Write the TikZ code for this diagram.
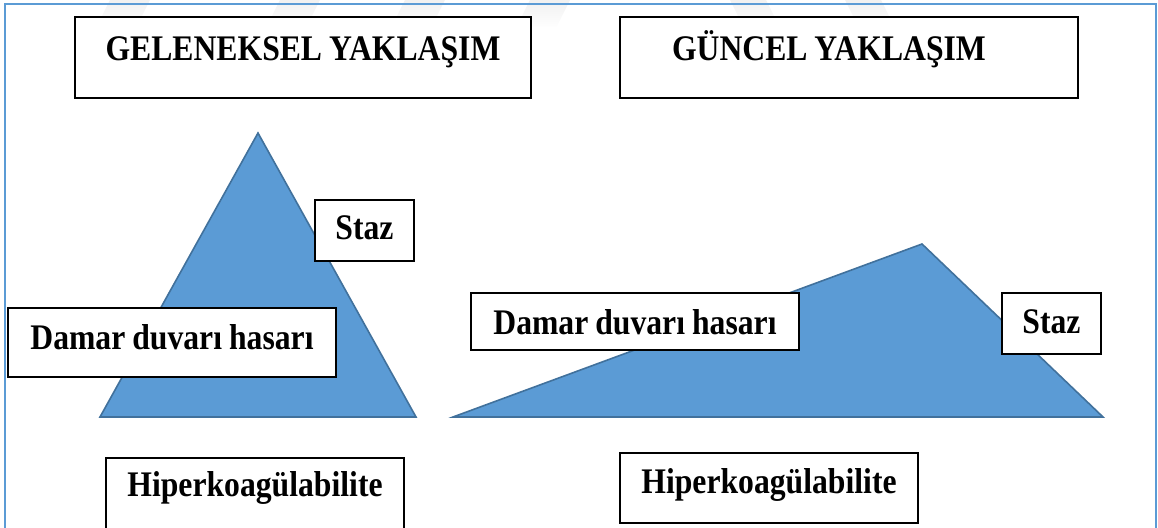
\documentclass[tikz,border=0pt]{standalone}
\usepackage{fontspec}
\setmainfont{Liberation Serif}
\newfontfamily\boxfont[FakeStretch=0.88,WordSpace=0.88]{Liberation Serif}
\usepackage{tikz}

\begin{document}
\begin{tikzpicture}[x=0.5pt,y=-0.5pt]
  \definecolor{TriBlue}{HTML}{5B9BD5}
  \definecolor{TriEdge}{HTML}{41719C}
  \definecolor{FrameBlue}{HTML}{5B9BD5}
  \def\TCOL{TriBlue}
  \def\ECOL{TriEdge}
  \tikzstyle{box} = [draw=black, line width=0.9pt, fill=white, inner sep=0pt, align=center, font=\boxfont\fontsize{18}{21}\selectfont\bfseries]
  \tikzstyle{tri} = [fill=\TCOL, draw=\ECOL, line width=0.8pt, line join=miter]
  \tikzstyle{frame} = [draw=FrameBlue, line width=1.2pt]

  \useasboundingbox (0,0) rectangle (1158,528);

  % faint watermark stripes at the top
  \foreach \x in {110,280,405,530}
    \shade[top color=gray!11, bottom color=white] (\x,0) -- ++(40,0) -- ++(-14,28) -- ++(-40,0) -- cycle;
  \foreach \x in {730,845}
    \shade[top color=gray!11, bottom color=white] (\x,0) -- ++(36,0) -- ++(14,28) -- ++(-36,0) -- cycle;

  \draw[frame] (5,4) rectangle (1156,560);

  % left picture
  \draw[tri] (100,417) -- (258,133) -- (416,417) -- cycle;
  \node[box, minimum width=228pt, text height=22pt, text depth=18.5pt] (headL) at (303,57.5) {GELENEKSEL YAKLAŞIM};
  \node[box, minimum width=49.5pt, text height=20pt, text depth=10.5pt] (stazL) at (364.5,230.5) {Staz};
  \node[box, minimum width=164pt, text height=21pt, text depth=13.5pt] (damarL) at (172,342.5) {Damar duvarı hasarı};
  \node[box, minimum width=149pt, text height=19.5pt, text depth=21.5pt] (hiperL) at (255,499) {Hiperkoagülabilite};

  % right picture
  \draw[tri] (453,417) -- (922,244) -- (1103,417) -- cycle;
  \node[box, text width=177pt, inner xsep=26pt, align=flush left, text height=22pt, text depth=18.5pt] (headR) at (849,57.5) {GÜNCEL YAKLAŞIM};
  \node[box, minimum width=164pt, text height=21pt, text depth=7.5pt] (damarR) at (635,321.5) {Damar duvarı hasarı};
  \node[box, minimum width=49.5pt, text height=20.5pt, text depth=10pt] (stazR) at (1051.5,323.5) {Staz};
  \node[box, minimum width=149pt, text height=20.5pt, text depth=14.5pt] (hiperR) at (769,488) {Hiperkoagülabilite};

\end{tikzpicture}
\end{document}
